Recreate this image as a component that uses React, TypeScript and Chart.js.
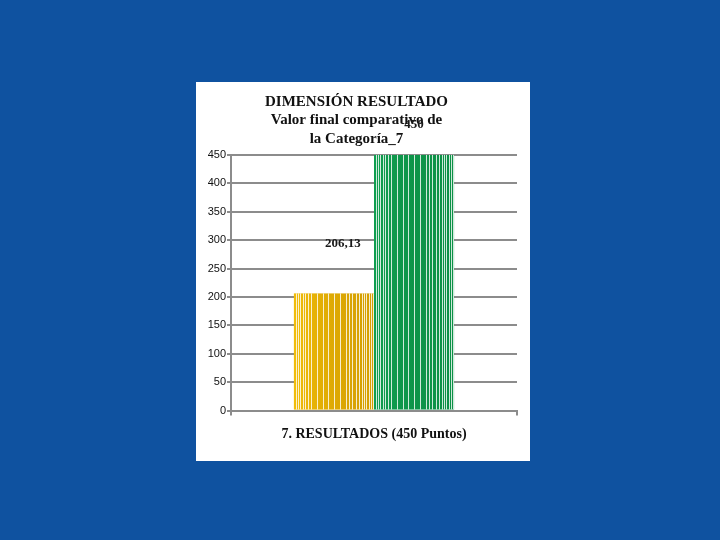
import React, { useEffect, useRef } from "react";
import { Chart, registerables } from "chart.js";

Chart.register(...registerables);

const categories = ["7. RESULTADOS (450 Puntos)"];
const obtainedValues = [206.13];
const maxValues = [450];
const yTicks = [0, 50, 100, 150, 200, 250, 300, 350, 400, 450];
const titleLines = ["DIMENSIÓN RESULTADO", "Valor final comparativo de", "la Categoría_7"];

const STRIPES = [0.02, 0.05, 0.08, 0.11, 0.14, 0.17, 0.21, 0.29, 0.36, 0.43, 0.5, 0.58, 0.65, 0.69, 0.73, 0.77, 0.81, 0.845, 0.875, 0.905, 0.935, 0.965, 0.99];

const fmt = (v: number) => (Number.isInteger(v) ? String(v) : v.toFixed(2).replace(".", ","));

const stripesPlugin = {
  id: "stripesAndLabels",
  afterDatasetsDraw(chart: any) {
    const ctx = chart.ctx;
    chart.data.datasets.forEach((ds: any, di: number) => {
      const meta = chart.getDatasetMeta(di);
      meta.data.forEach((el: any, i: number) => {
        const { x, y, base, width } = el.getProps(["x", "y", "base", "width"], true);
        const left = x - width / 2;
        ctx.save();
        const g = ctx.createLinearGradient(left, 0, left + width, 0);
        g.addColorStop(0, ds.shadeFrom);
        g.addColorStop(1, ds.shadeTo);
        ctx.fillStyle = g;
        ctx.fillRect(left, y, width, base - y);
        ctx.strokeStyle = "rgba(255,255,255,0.8)";
        ctx.lineWidth = 1;
        STRIPES.forEach((f) => {
          const sx = Math.round(left + f * width) + 0.5;
          ctx.beginPath();
          ctx.moveTo(sx, y);
          ctx.lineTo(sx, base);
          ctx.stroke();
        });
        ctx.restore();
        ctx.save();
        ctx.font = "bold 13px 'Liberation Serif', 'Times New Roman', serif";
        ctx.fillStyle = "#1a1a1a";
        ctx.textAlign = "center";
        ctx.textBaseline = "middle";
        ctx.fillText(fmt(ds.data[i]), x + ds.labelDx, y + ds.labelDy);
        ctx.restore();
      });
    });
  },
};

export default function App() {
  const ref = useRef<HTMLCanvasElement>(null);
  useEffect(() => {
    document.body.style.margin = "0";
    document.body.style.background = "#0F52A0";
    const chart = new Chart(ref.current!, {
      type: "bar",
      data: {
        labels: categories,
        datasets: [
          {
            label: "Valor obtenido",
            data: obtainedValues,
            backgroundColor: "#E6B000",
            borderWidth: 0,
            categoryPercentage: 0.56,
            barPercentage: 1,
            shadeFrom: "rgba(255,205,20,0.45)",
            shadeTo: "rgba(160,110,0,0.25)",
            labelDx: 9,
            labelDy: -50,
          } as any,
          {
            label: "Valor máximo",
            data: maxValues,
            backgroundColor: "#0E9A4C",
            borderWidth: 0,
            categoryPercentage: 0.56,
            barPercentage: 1,
            shadeFrom: "rgba(20,170,90,0.25)",
            shadeTo: "rgba(0,80,30,0.12)",
            labelDx: 0,
            labelDy: -30,
          } as any,
        ],
      },
      options: {
        animation: false,
        responsive: false,
        maintainAspectRatio: false,
        layout: { padding: { left: 0, right: 13, top: 0, bottom: 0 } },
        plugins: {
          legend: { display: false },
          tooltip: { enabled: false },
          title: {
            display: true,
            text: titleLines,
            color: "#111",
            font: { family: "'Liberation Serif', 'Times New Roman', serif", size: 15, weight: "bold", lineHeight: 1.22 },
            padding: { top: 11, bottom: 7 },
          },
        },
        scales: {
          x: {
            offset: true,
            grid: { display: true, drawOnChartArea: false, offset: true, color: "#8C8C8C", lineWidth: 2, tickLength: 5 },
            border: { display: true, color: "#8C8C8C", width: 2 },
            ticks: {
              color: "#111",
              padding: 10,
              font: { family: "'Liberation Serif', 'Times New Roman', serif", size: 14, weight: "bold" },
            },
            afterFit: (s: any) => {
              s.height = 50.5;
            },
          } as any,
          y: {
            min: 0,
            max: 450,
            afterBuildTicks: (s: any) => {
              s.ticks = yTicks.map((v) => ({ value: v }));
            },
            grid: { color: "#8C8C8C", lineWidth: 2, tickLength: 4 },
            border: { display: true, color: "#8C8C8C", width: 2 },
            ticks: {
              color: "#111",
              padding: 1,
              font: { family: "'Liberation Sans', Arial, sans-serif", size: 11 },
            },
            afterFit: (s: any) => {
              s.width = 35;
            },
          },
        },
      } as any,
      plugins: [stripesPlugin],
    });
    return () => chart.destroy();
  }, []);

  return (
    <div style={{ position: "absolute", left: 0, top: 0, width: 720, height: 540, background: "#0F52A0" }}>
      <div style={{ position: "absolute", left: 196, top: 82, width: 334, height: 379, background: "#FFFFFF" }}>
        <canvas ref={ref} width={334} height={379} style={{ width: 334, height: 379, display: "block" }} />
      </div>
    </div>
  );
}
